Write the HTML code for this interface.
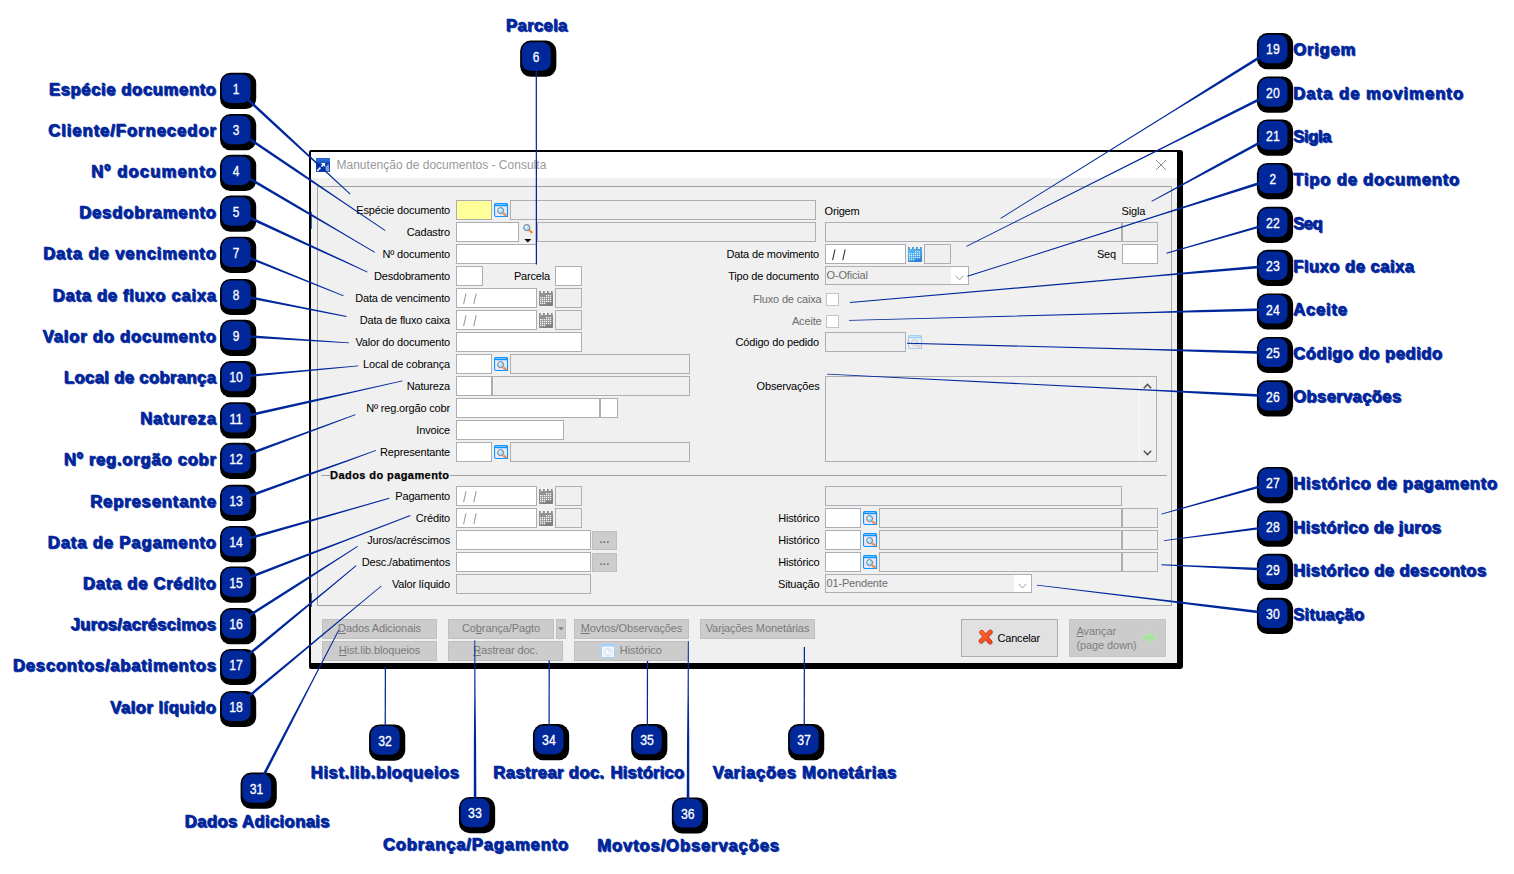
<!DOCTYPE html>
<html><head><meta charset="utf-8"><title>Manutenção de documentos</title>
<style>
html,body{margin:0;padding:0;background:#fff;}
body{width:1514px;height:874px;position:relative;overflow:hidden;font-family:"Liberation Sans",sans-serif;}
.abs{position:absolute;}
#dlgshadow{position:absolute;left:309px;top:150px;width:874px;height:519px;background:#000;border-radius:2px 3px 3px 2px;}
#dlg{position:absolute;left:311px;top:152px;width:866px;height:510.5px;background:#f0f0f0;}
#title{position:absolute;left:0;top:0;width:866px;height:26px;background:#fff;}
#title span{position:absolute;left:25.5px;top:5.5px;font-size:12px;color:#999;white-space:nowrap;letter-spacing:0.01px}
.f{position:absolute;box-sizing:border-box;height:20px;border:1px solid #abadb3;background:#fff;}
.g{background:#f0f0f0;border-color:#adafb5;}
.l{position:absolute;font-size:11px;color:#000;white-space:nowrap;text-align:right;line-height:13px;letter-spacing:-0.17px;}
.dis{color:#6d6d6d}
.btn{position:absolute;box-sizing:border-box;background:#cccccc;border:1px solid #bfbfbf;color:#7a7a7a;font-size:11px;text-align:center;white-space:nowrap;letter-spacing:-0.1px}
.btn u{text-decoration:underline;text-underline-offset:1px}
.sl{position:absolute;font-size:11px;color:#7b7b7b;font-style:normal;top:3px;line-height:13px;}
svg{position:absolute;left:0;top:0;}
</style></head><body>

<div id="dlgshadow"></div>
<div id="dlg">
<div id="title"><svg width="14" height="14" style="left:5px;top:6px" viewBox="0 0 14 14"><defs><linearGradient id="ig" x1="0" y1="0" x2="0" y2="1"><stop offset="0" stop-color="#1857c8"/><stop offset="0.12" stop-color="#2f6fd8"/><stop offset="0.32" stop-color="#1a55c6"/><stop offset="0.4" stop-color="#0838a8"/><stop offset="1" stop-color="#0a3cab"/></linearGradient></defs><rect width="14" height="14" rx="0.6" fill="url(#ig)"/><path d="M4.7 4.9 L9.1 4.9 L9.1 9.1 L7.6 7.6 L1.6 13.6 L0.5 12.6 L6.4 6.6 Z" fill="#fff"/><path d="M9.8 8.6 L12.6 5.8 L13.4 13.4 L9.6 13.4 Z" fill="#a9c1ee" opacity="0.75"/></svg><span>Manutenção de documentos - Consulta</span>
<svg width="12" height="12" style="left:844px;top:7px" viewBox="0 0 12 12"><path d="M1 1 L11 11 M11 1 L1 11" stroke="#8a8a8a" stroke-width="1" fill="none"/></svg>
</div>
<div class="abs" style="left:0px;top:441px;width:1px;height:14px;background:#3a6a9a"></div>
<div class="abs" style="left:0px;top:60px;width:1px;height:17px;background:#3f72b4"></div>
<div class="abs" style="left:6px;top:34px;width:855px;height:419.5px;box-sizing:border-box;border:1px solid #a0a0a0;border-right-color:#a8a8a8"></div>
<div class="l " style="top:51.5px;right:727px;">Espécie documento</div>
<div class="f " style="left:145px;top:48px;width:36px;height:20px;background:#ffff99;"></div>
<svg width="15" height="15" style="left:183px;top:51px;opacity:1" viewBox="0 0 15 15"><defs><linearGradient id="lkg" x1="0" y1="0" x2="1" y2="1"><stop offset="0" stop-color="#faf4ff"/><stop offset="1" stop-color="#dcdcff"/></linearGradient></defs><rect x="0.55" y="0.55" width="13" height="13" rx="1.5" fill="url(#lkg)" stroke="#0a94ff" stroke-width="1.1"/><rect x="0.6" y="0.6" width="12.9" height="2.6" rx="0.8" fill="#0a94ff"/><rect x="1.4" y="1.25" width="10.6" height="0.75" fill="#9fd2ff"/><line x1="9.2" y1="10.3" x2="12.1" y2="12.7" stroke="#f57a22" stroke-width="2.1" stroke-linecap="butt"/><line x1="9.6" y1="10.6" x2="11.8" y2="12.4" stroke="#ffd84a" stroke-width="0.8" stroke-dasharray="0.8 0.7"/><circle cx="6.6" cy="7.6" r="3" fill="#a4e0f8" stroke="#757b80" stroke-width="1"/><circle cx="6.0" cy="6.9" r="1.3" fill="#dffaff" opacity="0.9"/><rect x="12.9" y="12.9" width="0.9" height="0.9" fill="#444"/></svg>
<div class="f g" style="left:199px;top:48px;width:306px;height:20px;"></div>
<div class="l " style="top:73.5px;right:727px;">Cadastro</div>
<div class="f " style="left:145px;top:70px;width:63px;height:20px;"></div>
<svg width="12" height="12" style="left:211px;top:71.19999999999999px" viewBox="0 0 12 12"><line x1="7.2" y1="7.0" x2="9.6" y2="9.3" stroke="#f57a22" stroke-width="2.1" stroke-linecap="round"/><line x1="7.6" y1="7.4" x2="9.4" y2="9.1" stroke="#ffd84a" stroke-width="0.8" stroke-dasharray="0.8 0.7"/><circle cx="4.8" cy="4.6" r="3.1" fill="#a4e0f8" stroke="#757b80" stroke-width="1"/><circle cx="4.2" cy="3.9" r="1.4" fill="#dffaff" opacity="0.9"/></svg>
<svg width="8" height="4" style="left:213px;top:87px" viewBox="0 0 8 4"><path d="M0.3 0 L7.3 0 L3.8 3.6Z" fill="#000"/></svg>
<div class="f g" style="left:226px;top:70px;width:279px;height:20px;"></div>
<div class="l " style="top:95.5px;right:727px;">Nº documento</div>
<div class="f " style="left:145px;top:92px;width:81px;height:20px;"></div>
<div class="l " style="top:117.5px;right:727px;">Desdobramento</div>
<div class="f " style="left:145px;top:114px;width:27px;height:20px;"></div>
<div class="l " style="top:117.5px;right:627px;">Parcela</div>
<div class="f " style="left:244px;top:114px;width:27px;height:20px;"></div>
<div class="l " style="top:139.5px;right:727px;">Data de vencimento</div>
<div class="f " style="left:145px;top:136px;width:81px;height:20px;"></div>
<svg width="16" height="12" style="left:151.7px;top:141px" viewBox="0 0 16 12"><path d="M0.6 11.2 L3.0 0.3 M10.8 11.2 L13.2 0.3" stroke="#9a9a9a" stroke-width="1.05" fill="none"/></svg>
<svg width="15" height="16" style="left:228px;top:139px" viewBox="0 0 15 16"><defs><linearGradient id="cg1" x1="0" y1="0" x2="0.6" y2="1"><stop offset="0" stop-color="#9a9a9a"/><stop offset="1" stop-color="#7e7e7e"/></linearGradient></defs><rect x="0" y="1.9" width="14" height="13" rx="0.9" fill="url(#cg1)"/><rect x="0.10" y="0" width="1.7" height="2.4" fill="#8a8a8a"/><rect x="4.05" y="0" width="1.7" height="2.4" fill="#8a8a8a"/><rect x="8.00" y="0" width="1.7" height="2.4" fill="#8a8a8a"/><rect x="11.95" y="0" width="1.7" height="2.4" fill="#8a8a8a"/><rect x="7.4" y="13" width="5.6" height="1" fill="#7e7e7e" opacity="0.9"/><rect x="6.94" y="4.10" width="1.3" height="1.25" fill="#ffffff" opacity="0.95"/><rect x="8.92" y="4.10" width="1.3" height="1.25" fill="#ffffff" opacity="0.95"/><rect x="10.90" y="4.10" width="1.3" height="1.25" fill="#ffffff" opacity="0.95"/><rect x="1.00" y="6.05" width="1.3" height="1.25" fill="#ffffff" opacity="0.95"/><rect x="2.98" y="6.05" width="1.3" height="1.25" fill="#ffffff" opacity="0.95"/><rect x="4.96" y="6.05" width="1.3" height="1.25" fill="#ffffff" opacity="0.95"/><rect x="6.94" y="6.05" width="1.3" height="1.25" fill="#ffffff" opacity="0.95"/><rect x="8.92" y="6.05" width="1.3" height="1.25" fill="#ffffff" opacity="0.95"/><rect x="10.90" y="6.05" width="1.3" height="1.25" fill="#ffffff" opacity="0.95"/><rect x="1.00" y="8.00" width="1.3" height="1.25" fill="#ffffff" opacity="0.95"/><rect x="2.98" y="8.00" width="1.3" height="1.25" fill="#ffffff" opacity="0.95"/><rect x="4.96" y="8.00" width="1.3" height="1.25" fill="#ffffff" opacity="0.95"/><rect x="6.94" y="8.00" width="1.3" height="1.25" fill="#ffffff" opacity="0.95"/><rect x="8.92" y="8.00" width="1.3" height="1.25" fill="#ffffff" opacity="0.95"/><rect x="10.90" y="8.00" width="1.3" height="1.25" fill="#ffffff" opacity="0.95"/><rect x="1.00" y="9.95" width="1.3" height="1.25" fill="#ffffff" opacity="0.95"/><rect x="2.98" y="9.95" width="1.3" height="1.25" fill="#ffffff" opacity="0.95"/><rect x="4.96" y="9.95" width="1.3" height="1.25" fill="#ffffff" opacity="0.95"/><rect x="6.94" y="9.95" width="1.3" height="1.25" fill="#ffffff" opacity="0.95"/><rect x="8.92" y="9.95" width="1.3" height="1.25" fill="#ffffff" opacity="0.95"/><rect x="10.90" y="9.95" width="1.3" height="1.25" fill="#ffffff" opacity="0.95"/><rect x="1.00" y="11.90" width="1.3" height="1.25" fill="#ffffff" opacity="0.95"/><rect x="2.98" y="11.90" width="1.3" height="1.25" fill="#ffffff" opacity="0.95"/><rect x="4.96" y="11.90" width="1.3" height="1.25" fill="#ffffff" opacity="0.95"/></svg>
<div class="f g" style="left:244px;top:136px;width:27px;height:20px;"></div>
<div class="l " style="top:161.5px;right:727px;">Data de fluxo caixa</div>
<div class="f " style="left:145px;top:158px;width:81px;height:20px;"></div>
<svg width="16" height="12" style="left:151.7px;top:163px" viewBox="0 0 16 12"><path d="M0.6 11.2 L3.0 0.3 M10.8 11.2 L13.2 0.3" stroke="#9a9a9a" stroke-width="1.05" fill="none"/></svg>
<svg width="15" height="16" style="left:228px;top:161px" viewBox="0 0 15 16"><defs><linearGradient id="cg2" x1="0" y1="0" x2="0.6" y2="1"><stop offset="0" stop-color="#9a9a9a"/><stop offset="1" stop-color="#7e7e7e"/></linearGradient></defs><rect x="0" y="1.9" width="14" height="13" rx="0.9" fill="url(#cg2)"/><rect x="0.10" y="0" width="1.7" height="2.4" fill="#8a8a8a"/><rect x="4.05" y="0" width="1.7" height="2.4" fill="#8a8a8a"/><rect x="8.00" y="0" width="1.7" height="2.4" fill="#8a8a8a"/><rect x="11.95" y="0" width="1.7" height="2.4" fill="#8a8a8a"/><rect x="7.4" y="13" width="5.6" height="1" fill="#7e7e7e" opacity="0.9"/><rect x="6.94" y="4.10" width="1.3" height="1.25" fill="#ffffff" opacity="0.95"/><rect x="8.92" y="4.10" width="1.3" height="1.25" fill="#ffffff" opacity="0.95"/><rect x="10.90" y="4.10" width="1.3" height="1.25" fill="#ffffff" opacity="0.95"/><rect x="1.00" y="6.05" width="1.3" height="1.25" fill="#ffffff" opacity="0.95"/><rect x="2.98" y="6.05" width="1.3" height="1.25" fill="#ffffff" opacity="0.95"/><rect x="4.96" y="6.05" width="1.3" height="1.25" fill="#ffffff" opacity="0.95"/><rect x="6.94" y="6.05" width="1.3" height="1.25" fill="#ffffff" opacity="0.95"/><rect x="8.92" y="6.05" width="1.3" height="1.25" fill="#ffffff" opacity="0.95"/><rect x="10.90" y="6.05" width="1.3" height="1.25" fill="#ffffff" opacity="0.95"/><rect x="1.00" y="8.00" width="1.3" height="1.25" fill="#ffffff" opacity="0.95"/><rect x="2.98" y="8.00" width="1.3" height="1.25" fill="#ffffff" opacity="0.95"/><rect x="4.96" y="8.00" width="1.3" height="1.25" fill="#ffffff" opacity="0.95"/><rect x="6.94" y="8.00" width="1.3" height="1.25" fill="#ffffff" opacity="0.95"/><rect x="8.92" y="8.00" width="1.3" height="1.25" fill="#ffffff" opacity="0.95"/><rect x="10.90" y="8.00" width="1.3" height="1.25" fill="#ffffff" opacity="0.95"/><rect x="1.00" y="9.95" width="1.3" height="1.25" fill="#ffffff" opacity="0.95"/><rect x="2.98" y="9.95" width="1.3" height="1.25" fill="#ffffff" opacity="0.95"/><rect x="4.96" y="9.95" width="1.3" height="1.25" fill="#ffffff" opacity="0.95"/><rect x="6.94" y="9.95" width="1.3" height="1.25" fill="#ffffff" opacity="0.95"/><rect x="8.92" y="9.95" width="1.3" height="1.25" fill="#ffffff" opacity="0.95"/><rect x="10.90" y="9.95" width="1.3" height="1.25" fill="#ffffff" opacity="0.95"/><rect x="1.00" y="11.90" width="1.3" height="1.25" fill="#ffffff" opacity="0.95"/><rect x="2.98" y="11.90" width="1.3" height="1.25" fill="#ffffff" opacity="0.95"/><rect x="4.96" y="11.90" width="1.3" height="1.25" fill="#ffffff" opacity="0.95"/></svg>
<div class="f g" style="left:244px;top:158px;width:27px;height:20px;"></div>
<div class="l " style="top:183.5px;right:727px;">Valor do documento</div>
<div class="f " style="left:145px;top:180px;width:126px;height:20px;"></div>
<div class="l " style="top:205.5px;right:727px;">Local de cobrança</div>
<div class="f " style="left:145px;top:202px;width:36px;height:20px;"></div>
<svg width="15" height="15" style="left:183px;top:205px;opacity:1" viewBox="0 0 15 15"><defs><linearGradient id="lkg" x1="0" y1="0" x2="1" y2="1"><stop offset="0" stop-color="#faf4ff"/><stop offset="1" stop-color="#dcdcff"/></linearGradient></defs><rect x="0.55" y="0.55" width="13" height="13" rx="1.5" fill="url(#lkg)" stroke="#0a94ff" stroke-width="1.1"/><rect x="0.6" y="0.6" width="12.9" height="2.6" rx="0.8" fill="#0a94ff"/><rect x="1.4" y="1.25" width="10.6" height="0.75" fill="#9fd2ff"/><line x1="9.2" y1="10.3" x2="12.1" y2="12.7" stroke="#f57a22" stroke-width="2.1" stroke-linecap="butt"/><line x1="9.6" y1="10.6" x2="11.8" y2="12.4" stroke="#ffd84a" stroke-width="0.8" stroke-dasharray="0.8 0.7"/><circle cx="6.6" cy="7.6" r="3" fill="#a4e0f8" stroke="#757b80" stroke-width="1"/><circle cx="6.0" cy="6.9" r="1.3" fill="#dffaff" opacity="0.9"/><rect x="12.9" y="12.9" width="0.9" height="0.9" fill="#444"/></svg>
<div class="f g" style="left:199px;top:202px;width:180px;height:20px;"></div>
<div class="l " style="top:227.5px;right:727px;">Natureza</div>
<div class="f " style="left:145px;top:224px;width:36px;height:20px;"></div>
<div class="f g" style="left:181px;top:224px;width:198px;height:20px;"></div>
<div class="l " style="top:249.5px;right:727px;">Nº reg.orgão cobr</div>
<div class="f " style="left:145px;top:246px;width:144px;height:20px;"></div>
<div class="f " style="left:289px;top:246px;width:18px;height:20px;"></div>
<div class="l " style="top:271.5px;right:727px;">Invoice</div>
<div class="f " style="left:145px;top:268px;width:108px;height:20px;"></div>
<div class="l " style="top:293.5px;right:727px;">Representante</div>
<div class="f " style="left:145px;top:290px;width:36px;height:20px;"></div>
<svg width="15" height="15" style="left:183px;top:293px;opacity:1" viewBox="0 0 15 15"><defs><linearGradient id="lkg" x1="0" y1="0" x2="1" y2="1"><stop offset="0" stop-color="#faf4ff"/><stop offset="1" stop-color="#dcdcff"/></linearGradient></defs><rect x="0.55" y="0.55" width="13" height="13" rx="1.5" fill="url(#lkg)" stroke="#0a94ff" stroke-width="1.1"/><rect x="0.6" y="0.6" width="12.9" height="2.6" rx="0.8" fill="#0a94ff"/><rect x="1.4" y="1.25" width="10.6" height="0.75" fill="#9fd2ff"/><line x1="9.2" y1="10.3" x2="12.1" y2="12.7" stroke="#f57a22" stroke-width="2.1" stroke-linecap="butt"/><line x1="9.6" y1="10.6" x2="11.8" y2="12.4" stroke="#ffd84a" stroke-width="0.8" stroke-dasharray="0.8 0.7"/><circle cx="6.6" cy="7.6" r="3" fill="#a4e0f8" stroke="#757b80" stroke-width="1"/><circle cx="6.0" cy="6.9" r="1.3" fill="#dffaff" opacity="0.9"/><rect x="12.9" y="12.9" width="0.9" height="0.9" fill="#444"/></svg>
<div class="f g" style="left:199px;top:290px;width:180px;height:20px;"></div>
<div class="abs" style="left:10px;top:323px;width:846px;height:1px;background:#a0a0a0"></div>
<div class="l" style="left:18.600000000000023px;top:316.5px;font-weight:bold;background:#f0f0f0;padding:0 0.5px 0 0.5px;letter-spacing:0.42px;-webkit-text-stroke:0.25px #000">Dados do pagamento</div>
<div class="l " style="top:337.5px;right:727px;">Pagamento</div>
<div class="f " style="left:145px;top:334px;width:81px;height:20px;"></div>
<svg width="16" height="12" style="left:151.7px;top:339px" viewBox="0 0 16 12"><path d="M0.6 11.2 L3.0 0.3 M10.8 11.2 L13.2 0.3" stroke="#9a9a9a" stroke-width="1.05" fill="none"/></svg>
<svg width="15" height="16" style="left:228px;top:337px" viewBox="0 0 15 16"><defs><linearGradient id="cg3" x1="0" y1="0" x2="0.6" y2="1"><stop offset="0" stop-color="#9a9a9a"/><stop offset="1" stop-color="#7e7e7e"/></linearGradient></defs><rect x="0" y="1.9" width="14" height="13" rx="0.9" fill="url(#cg3)"/><rect x="0.10" y="0" width="1.7" height="2.4" fill="#8a8a8a"/><rect x="4.05" y="0" width="1.7" height="2.4" fill="#8a8a8a"/><rect x="8.00" y="0" width="1.7" height="2.4" fill="#8a8a8a"/><rect x="11.95" y="0" width="1.7" height="2.4" fill="#8a8a8a"/><rect x="7.4" y="13" width="5.6" height="1" fill="#7e7e7e" opacity="0.9"/><rect x="6.94" y="4.10" width="1.3" height="1.25" fill="#ffffff" opacity="0.95"/><rect x="8.92" y="4.10" width="1.3" height="1.25" fill="#ffffff" opacity="0.95"/><rect x="10.90" y="4.10" width="1.3" height="1.25" fill="#ffffff" opacity="0.95"/><rect x="1.00" y="6.05" width="1.3" height="1.25" fill="#ffffff" opacity="0.95"/><rect x="2.98" y="6.05" width="1.3" height="1.25" fill="#ffffff" opacity="0.95"/><rect x="4.96" y="6.05" width="1.3" height="1.25" fill="#ffffff" opacity="0.95"/><rect x="6.94" y="6.05" width="1.3" height="1.25" fill="#ffffff" opacity="0.95"/><rect x="8.92" y="6.05" width="1.3" height="1.25" fill="#ffffff" opacity="0.95"/><rect x="10.90" y="6.05" width="1.3" height="1.25" fill="#ffffff" opacity="0.95"/><rect x="1.00" y="8.00" width="1.3" height="1.25" fill="#ffffff" opacity="0.95"/><rect x="2.98" y="8.00" width="1.3" height="1.25" fill="#ffffff" opacity="0.95"/><rect x="4.96" y="8.00" width="1.3" height="1.25" fill="#ffffff" opacity="0.95"/><rect x="6.94" y="8.00" width="1.3" height="1.25" fill="#ffffff" opacity="0.95"/><rect x="8.92" y="8.00" width="1.3" height="1.25" fill="#ffffff" opacity="0.95"/><rect x="10.90" y="8.00" width="1.3" height="1.25" fill="#ffffff" opacity="0.95"/><rect x="1.00" y="9.95" width="1.3" height="1.25" fill="#ffffff" opacity="0.95"/><rect x="2.98" y="9.95" width="1.3" height="1.25" fill="#ffffff" opacity="0.95"/><rect x="4.96" y="9.95" width="1.3" height="1.25" fill="#ffffff" opacity="0.95"/><rect x="6.94" y="9.95" width="1.3" height="1.25" fill="#ffffff" opacity="0.95"/><rect x="8.92" y="9.95" width="1.3" height="1.25" fill="#ffffff" opacity="0.95"/><rect x="10.90" y="9.95" width="1.3" height="1.25" fill="#ffffff" opacity="0.95"/><rect x="1.00" y="11.90" width="1.3" height="1.25" fill="#ffffff" opacity="0.95"/><rect x="2.98" y="11.90" width="1.3" height="1.25" fill="#ffffff" opacity="0.95"/><rect x="4.96" y="11.90" width="1.3" height="1.25" fill="#ffffff" opacity="0.95"/></svg>
<div class="f g" style="left:244px;top:334px;width:27px;height:20px;"></div>
<div class="l " style="top:359.5px;right:727px;">Crédito</div>
<div class="f " style="left:145px;top:356px;width:81px;height:20px;"></div>
<svg width="16" height="12" style="left:151.7px;top:361px" viewBox="0 0 16 12"><path d="M0.6 11.2 L3.0 0.3 M10.8 11.2 L13.2 0.3" stroke="#9a9a9a" stroke-width="1.05" fill="none"/></svg>
<svg width="15" height="16" style="left:228px;top:359px" viewBox="0 0 15 16"><defs><linearGradient id="cg4" x1="0" y1="0" x2="0.6" y2="1"><stop offset="0" stop-color="#9a9a9a"/><stop offset="1" stop-color="#7e7e7e"/></linearGradient></defs><rect x="0" y="1.9" width="14" height="13" rx="0.9" fill="url(#cg4)"/><rect x="0.10" y="0" width="1.7" height="2.4" fill="#8a8a8a"/><rect x="4.05" y="0" width="1.7" height="2.4" fill="#8a8a8a"/><rect x="8.00" y="0" width="1.7" height="2.4" fill="#8a8a8a"/><rect x="11.95" y="0" width="1.7" height="2.4" fill="#8a8a8a"/><rect x="7.4" y="13" width="5.6" height="1" fill="#7e7e7e" opacity="0.9"/><rect x="6.94" y="4.10" width="1.3" height="1.25" fill="#ffffff" opacity="0.95"/><rect x="8.92" y="4.10" width="1.3" height="1.25" fill="#ffffff" opacity="0.95"/><rect x="10.90" y="4.10" width="1.3" height="1.25" fill="#ffffff" opacity="0.95"/><rect x="1.00" y="6.05" width="1.3" height="1.25" fill="#ffffff" opacity="0.95"/><rect x="2.98" y="6.05" width="1.3" height="1.25" fill="#ffffff" opacity="0.95"/><rect x="4.96" y="6.05" width="1.3" height="1.25" fill="#ffffff" opacity="0.95"/><rect x="6.94" y="6.05" width="1.3" height="1.25" fill="#ffffff" opacity="0.95"/><rect x="8.92" y="6.05" width="1.3" height="1.25" fill="#ffffff" opacity="0.95"/><rect x="10.90" y="6.05" width="1.3" height="1.25" fill="#ffffff" opacity="0.95"/><rect x="1.00" y="8.00" width="1.3" height="1.25" fill="#ffffff" opacity="0.95"/><rect x="2.98" y="8.00" width="1.3" height="1.25" fill="#ffffff" opacity="0.95"/><rect x="4.96" y="8.00" width="1.3" height="1.25" fill="#ffffff" opacity="0.95"/><rect x="6.94" y="8.00" width="1.3" height="1.25" fill="#ffffff" opacity="0.95"/><rect x="8.92" y="8.00" width="1.3" height="1.25" fill="#ffffff" opacity="0.95"/><rect x="10.90" y="8.00" width="1.3" height="1.25" fill="#ffffff" opacity="0.95"/><rect x="1.00" y="9.95" width="1.3" height="1.25" fill="#ffffff" opacity="0.95"/><rect x="2.98" y="9.95" width="1.3" height="1.25" fill="#ffffff" opacity="0.95"/><rect x="4.96" y="9.95" width="1.3" height="1.25" fill="#ffffff" opacity="0.95"/><rect x="6.94" y="9.95" width="1.3" height="1.25" fill="#ffffff" opacity="0.95"/><rect x="8.92" y="9.95" width="1.3" height="1.25" fill="#ffffff" opacity="0.95"/><rect x="10.90" y="9.95" width="1.3" height="1.25" fill="#ffffff" opacity="0.95"/><rect x="1.00" y="11.90" width="1.3" height="1.25" fill="#ffffff" opacity="0.95"/><rect x="2.98" y="11.90" width="1.3" height="1.25" fill="#ffffff" opacity="0.95"/><rect x="4.96" y="11.90" width="1.3" height="1.25" fill="#ffffff" opacity="0.95"/></svg>
<div class="f g" style="left:244px;top:356px;width:27px;height:20px;"></div>
<div class="l " style="top:381.5px;right:727px;">Juros/acréscimos</div>
<div class="f " style="left:145px;top:378px;width:135px;height:20px;"></div>
<div class="btn" style="left:281px;top:379px;width:25px;height:19px;line-height:15px;letter-spacing:0.3px;color:#6f6f6f;font-weight:bold">...</div>
<div class="l " style="top:403.5px;right:727px;">Desc./abatimentos</div>
<div class="f " style="left:145px;top:400px;width:135px;height:20px;"></div>
<div class="btn" style="left:281px;top:401px;width:25px;height:19px;line-height:15px;letter-spacing:0.3px;color:#6f6f6f;font-weight:bold">...</div>
<div class="l " style="top:425.5px;right:727px;">Valor líquido</div>
<div class="f g" style="left:145px;top:422px;width:135px;height:20px;"></div>
<div class="l " style="top:53.0px;left:513.5px;text-align:left;">Origem</div>
<div class="l " style="top:53.0px;left:810.5px;text-align:left;">Sigla</div>
<div class="f g" style="left:514px;top:70px;width:297px;height:20px;"></div>
<div class="f g" style="left:811px;top:70px;width:36px;height:20px;"></div>
<div class="l " style="top:95.5px;right:358px;">Data de movimento</div>
<div class="f " style="left:514px;top:92px;width:81px;height:20px;"></div>
<svg width="16" height="12" style="left:521.0px;top:97px" viewBox="0 0 16 12"><path d="M0.6 11.2 L3.0 0.3 M10.8 11.2 L13.2 0.3" stroke="#2a2a3a" stroke-width="1.05" fill="none"/></svg>
<svg width="15" height="16" style="left:597px;top:95px" viewBox="0 0 15 16"><defs><linearGradient id="cg5" x1="0" y1="0" x2="0.6" y2="1"><stop offset="0" stop-color="#5cc2fa"/><stop offset="1" stop-color="#2f80d6"/></linearGradient></defs><rect x="0" y="1.9" width="14" height="13" rx="0.9" fill="url(#cg5)"/><rect x="0.10" y="0" width="1.7" height="2.4" fill="#3f95c8"/><rect x="4.05" y="0" width="1.7" height="2.4" fill="#3f95c8"/><rect x="8.00" y="0" width="1.7" height="2.4" fill="#3f95c8"/><rect x="11.95" y="0" width="1.7" height="2.4" fill="#3f95c8"/><rect x="7.4" y="13" width="5.6" height="1" fill="#2f80d6" opacity="0.9"/><rect x="6.94" y="4.10" width="1.3" height="1.25" fill="#d8fbff" opacity="0.95"/><rect x="8.92" y="4.10" width="1.3" height="1.25" fill="#d8fbff" opacity="0.95"/><rect x="10.90" y="4.10" width="1.3" height="1.25" fill="#d8fbff" opacity="0.95"/><rect x="1.00" y="6.05" width="1.3" height="1.25" fill="#d8fbff" opacity="0.95"/><rect x="2.98" y="6.05" width="1.3" height="1.25" fill="#d8fbff" opacity="0.95"/><rect x="4.96" y="6.05" width="1.3" height="1.25" fill="#d8fbff" opacity="0.95"/><rect x="6.94" y="6.05" width="1.3" height="1.25" fill="#d8fbff" opacity="0.95"/><rect x="8.92" y="6.05" width="1.3" height="1.25" fill="#d8fbff" opacity="0.95"/><rect x="10.90" y="6.05" width="1.3" height="1.25" fill="#d8fbff" opacity="0.95"/><rect x="1.00" y="8.00" width="1.3" height="1.25" fill="#d8fbff" opacity="0.95"/><rect x="2.98" y="8.00" width="1.3" height="1.25" fill="#d8fbff" opacity="0.95"/><rect x="4.96" y="8.00" width="1.3" height="1.25" fill="#d8fbff" opacity="0.95"/><rect x="6.94" y="8.00" width="1.3" height="1.25" fill="#d8fbff" opacity="0.95"/><rect x="8.92" y="8.00" width="1.3" height="1.25" fill="#d8fbff" opacity="0.95"/><rect x="10.90" y="8.00" width="1.3" height="1.25" fill="#d8fbff" opacity="0.95"/><rect x="1.00" y="9.95" width="1.3" height="1.25" fill="#d8fbff" opacity="0.95"/><rect x="2.98" y="9.95" width="1.3" height="1.25" fill="#d8fbff" opacity="0.95"/><rect x="4.96" y="9.95" width="1.3" height="1.25" fill="#d8fbff" opacity="0.95"/><rect x="6.94" y="9.95" width="1.3" height="1.25" fill="#d8fbff" opacity="0.95"/><rect x="8.92" y="9.95" width="1.3" height="1.25" fill="#d8fbff" opacity="0.95"/><rect x="10.90" y="9.95" width="1.3" height="1.25" fill="#d8fbff" opacity="0.95"/><rect x="1.00" y="11.90" width="1.3" height="1.25" fill="#d8fbff" opacity="0.95"/><rect x="2.98" y="11.90" width="1.3" height="1.25" fill="#d8fbff" opacity="0.95"/><rect x="4.96" y="11.90" width="1.3" height="1.25" fill="#d8fbff" opacity="0.95"/></svg>
<div class="f g" style="left:613px;top:92px;width:27px;height:20px;"></div>
<div class="l " style="top:95.5px;right:61px;">Seq</div>
<div class="f " style="left:811px;top:92px;width:36px;height:20px;"></div>
<div class="l " style="top:117.5px;right:358px;">Tipo de documento</div>
<div class="f g" style="left:514px;top:114px;width:144px;height:19px;"></div>
<div class="abs" style="left:640px;top:115px;width:17px;height:17px;background:#fff"></div>
<svg width="9" height="6" style="left:644px;top:122.5px" viewBox="0 0 9 6"><path d="M0.5 0.7 L4.5 4.9 L8.5 0.7" stroke="#9a9a9a" stroke-width="1" fill="none"/></svg>
<div class="l dis" style="left:515.5px;top:116.5px;text-align:left;">O-Oficial</div>
<div class="l dis" style="top:140.5px;right:355.5px;">Fluxo de caixa</div>
<div class="f" style="left:515px;top:141px;width:13px;height:13px;border-color:#c4c4c4"></div>
<div class="l dis" style="top:162.5px;right:355.5px;">Aceite</div>
<div class="f" style="left:515px;top:163px;width:13px;height:13px;border-color:#c4c4c4"></div>
<div class="l " style="top:183.5px;right:358px;">Código do pedido</div>
<div class="f g" style="left:514px;top:180px;width:81px;height:20px;"></div>
<svg width="15" height="15" style="left:597px;top:183px;opacity:0.33" viewBox="0 0 15 15"><defs><linearGradient id="lkg" x1="0" y1="0" x2="1" y2="1"><stop offset="0" stop-color="#faf4ff"/><stop offset="1" stop-color="#dcdcff"/></linearGradient></defs><rect x="0.55" y="0.55" width="13" height="13" rx="1.5" fill="url(#lkg)" stroke="#0a94ff" stroke-width="1.1"/><rect x="0.6" y="0.6" width="12.9" height="2.6" rx="0.8" fill="#0a94ff"/><rect x="1.4" y="1.25" width="10.6" height="0.75" fill="#9fd2ff"/><line x1="9.2" y1="10.3" x2="12.1" y2="12.7" stroke="#f57a22" stroke-width="2.1" stroke-linecap="butt"/><line x1="9.6" y1="10.6" x2="11.8" y2="12.4" stroke="#ffd84a" stroke-width="0.8" stroke-dasharray="0.8 0.7"/><circle cx="6.6" cy="7.6" r="3" fill="#a4e0f8" stroke="#757b80" stroke-width="1"/><circle cx="6.0" cy="6.9" r="1.3" fill="#dffaff" opacity="0.9"/><rect x="12.9" y="12.9" width="0.9" height="0.9" fill="#444"/></svg>
<div class="l " style="top:227.5px;right:357.5px;">Observações</div>
<div class="f g" style="left:514px;top:224px;width:332px;height:86px"></div>
<div class="abs" style="left:828px;top:225px;width:1px;height:84px;background:#fafafa"></div>
<svg width="9" height="6" style="left:832px;top:231px" viewBox="0 0 9 6"><path d="M0.8 5.2 L4.5 1.4 L8.2 5.2" stroke="#555" stroke-width="1.5" fill="none"/></svg>
<svg width="9" height="6" style="left:832px;top:298px" viewBox="0 0 9 6"><path d="M0.8 0.8 L4.5 4.6 L8.2 0.8" stroke="#555" stroke-width="1.5" fill="none"/></svg>
<div class="f g" style="left:514px;top:334px;width:297px;height:20px;"></div>
<div class="l " style="top:359.5px;right:357.5px;">Histórico</div>
<div class="f " style="left:514px;top:356px;width:36px;height:20px;"></div>
<svg width="15" height="15" style="left:552px;top:359px;opacity:1" viewBox="0 0 15 15"><defs><linearGradient id="lkg" x1="0" y1="0" x2="1" y2="1"><stop offset="0" stop-color="#faf4ff"/><stop offset="1" stop-color="#dcdcff"/></linearGradient></defs><rect x="0.55" y="0.55" width="13" height="13" rx="1.5" fill="url(#lkg)" stroke="#0a94ff" stroke-width="1.1"/><rect x="0.6" y="0.6" width="12.9" height="2.6" rx="0.8" fill="#0a94ff"/><rect x="1.4" y="1.25" width="10.6" height="0.75" fill="#9fd2ff"/><line x1="9.2" y1="10.3" x2="12.1" y2="12.7" stroke="#f57a22" stroke-width="2.1" stroke-linecap="butt"/><line x1="9.6" y1="10.6" x2="11.8" y2="12.4" stroke="#ffd84a" stroke-width="0.8" stroke-dasharray="0.8 0.7"/><circle cx="6.6" cy="7.6" r="3" fill="#a4e0f8" stroke="#757b80" stroke-width="1"/><circle cx="6.0" cy="6.9" r="1.3" fill="#dffaff" opacity="0.9"/><rect x="12.9" y="12.9" width="0.9" height="0.9" fill="#444"/></svg>
<div class="f g" style="left:568px;top:356px;width:243px;height:20px;"></div>
<div class="f g" style="left:811px;top:356px;width:36px;height:20px;"></div>
<div class="l " style="top:381.5px;right:357.5px;">Histórico</div>
<div class="f " style="left:514px;top:378px;width:36px;height:20px;"></div>
<svg width="15" height="15" style="left:552px;top:381px;opacity:1" viewBox="0 0 15 15"><defs><linearGradient id="lkg" x1="0" y1="0" x2="1" y2="1"><stop offset="0" stop-color="#faf4ff"/><stop offset="1" stop-color="#dcdcff"/></linearGradient></defs><rect x="0.55" y="0.55" width="13" height="13" rx="1.5" fill="url(#lkg)" stroke="#0a94ff" stroke-width="1.1"/><rect x="0.6" y="0.6" width="12.9" height="2.6" rx="0.8" fill="#0a94ff"/><rect x="1.4" y="1.25" width="10.6" height="0.75" fill="#9fd2ff"/><line x1="9.2" y1="10.3" x2="12.1" y2="12.7" stroke="#f57a22" stroke-width="2.1" stroke-linecap="butt"/><line x1="9.6" y1="10.6" x2="11.8" y2="12.4" stroke="#ffd84a" stroke-width="0.8" stroke-dasharray="0.8 0.7"/><circle cx="6.6" cy="7.6" r="3" fill="#a4e0f8" stroke="#757b80" stroke-width="1"/><circle cx="6.0" cy="6.9" r="1.3" fill="#dffaff" opacity="0.9"/><rect x="12.9" y="12.9" width="0.9" height="0.9" fill="#444"/></svg>
<div class="f g" style="left:568px;top:378px;width:243px;height:20px;"></div>
<div class="f g" style="left:811px;top:378px;width:36px;height:20px;"></div>
<div class="l " style="top:403.5px;right:357.5px;">Histórico</div>
<div class="f " style="left:514px;top:400px;width:36px;height:20px;"></div>
<svg width="15" height="15" style="left:552px;top:403px;opacity:1" viewBox="0 0 15 15"><defs><linearGradient id="lkg" x1="0" y1="0" x2="1" y2="1"><stop offset="0" stop-color="#faf4ff"/><stop offset="1" stop-color="#dcdcff"/></linearGradient></defs><rect x="0.55" y="0.55" width="13" height="13" rx="1.5" fill="url(#lkg)" stroke="#0a94ff" stroke-width="1.1"/><rect x="0.6" y="0.6" width="12.9" height="2.6" rx="0.8" fill="#0a94ff"/><rect x="1.4" y="1.25" width="10.6" height="0.75" fill="#9fd2ff"/><line x1="9.2" y1="10.3" x2="12.1" y2="12.7" stroke="#f57a22" stroke-width="2.1" stroke-linecap="butt"/><line x1="9.6" y1="10.6" x2="11.8" y2="12.4" stroke="#ffd84a" stroke-width="0.8" stroke-dasharray="0.8 0.7"/><circle cx="6.6" cy="7.6" r="3" fill="#a4e0f8" stroke="#757b80" stroke-width="1"/><circle cx="6.0" cy="6.9" r="1.3" fill="#dffaff" opacity="0.9"/><rect x="12.9" y="12.9" width="0.9" height="0.9" fill="#444"/></svg>
<div class="f g" style="left:568px;top:400px;width:243px;height:20px;"></div>
<div class="f g" style="left:811px;top:400px;width:36px;height:20px;"></div>
<div class="l " style="top:425.5px;right:357.5px;">Situação</div>
<div class="f g" style="left:514px;top:422px;width:207px;height:19px;"></div>
<div class="abs" style="left:703px;top:423px;width:17px;height:17px;background:#fff"></div>
<svg width="9" height="6" style="left:707px;top:430.5px" viewBox="0 0 9 6"><path d="M0.5 0.7 L4.5 4.9 L8.5 0.7" stroke="#9a9a9a" stroke-width="1" fill="none"/></svg>
<div class="l dis" style="left:515.5px;top:424.5px;text-align:left;">01-Pendente</div>
<div class="btn" style="left:11px;top:467.20000000000005px;width:115px;height:19.59999999999991px;line-height:17.59999999999991px;"><u>D</u>ados Adicionais</div>
<div class="btn" style="left:137px;top:467.20000000000005px;width:106px;height:19.59999999999991px;line-height:17.59999999999991px;">Co<u>b</u>rança/Pagto</div>
<div class="btn" style="left:245px;top:467.20000000000005px;width:10px;height:19.59999999999991px;line-height:17.59999999999991px;"><svg width="6" height="4" style="position:absolute;left:1px;top:7px" viewBox="0 0 6 4"><path d="M0 0.3 L6 0.3 L3 3.6Z" fill="#838383"/></svg></div>
<div class="btn" style="left:263px;top:467.20000000000005px;width:115px;height:19.59999999999991px;line-height:17.59999999999991px;"><u>M</u>ovtos/Observações</div>
<div class="btn" style="left:389px;top:467.20000000000005px;width:115px;height:19.59999999999991px;line-height:17.59999999999991px;">Var<u>i</u>ações Monetárias</div>
<div class="btn" style="left:11px;top:489.20000000000005px;width:115px;height:19.59999999999991px;line-height:17.59999999999991px;"><u>H</u>ist.lib.bloqueios</div>
<div class="btn" style="left:137px;top:489.20000000000005px;width:115px;height:19.59999999999991px;line-height:17.59999999999991px;"><u>R</u>astrear doc.</div>
<div class="btn" style="left:263px;top:489.20000000000005px;width:114.5px;height:19.59999999999991px;line-height:17.59999999999991px;"><svg width="14" height="14" style="position:absolute;left:26px;top:1.5px" viewBox="0 0 14 14"><rect x="0.5" y="0.5" width="13" height="13" rx="1.2" fill="#f4f4ff" stroke="#9cd0ff" stroke-width="1"/><rect x="0.5" y="0.5" width="13" height="2" fill="#9cd0ff"/><circle cx="7" cy="8" r="3.3" fill="#fff" stroke="#bcd3e6" stroke-width="0.9"/><path d="M7 6 L7 8 L8.6 7" stroke="#bcd3e6" stroke-width="0.8" fill="none"/></svg><span style="padding-left:19px">Histórico</span></div>
<div class="btn" style="left:650px;top:467px;width:97px;height:38px;background:#e1e1e1;border-color:#adadad;color:#000"></div>
<svg width="17" height="17" style="left:666.5px;top:477px" viewBox="0 0 17 17"><defs><linearGradient id="xg" x1="0" y1="0" x2="1" y2="1"><stop offset="0" stop-color="#ff6a30"/><stop offset="1" stop-color="#f0451a"/></linearGradient></defs><path d="M4.2 3.9 L12.6 13.6 M12.9 3.6 L3.6 12.8" stroke="#50606a" stroke-opacity="0.35" stroke-width="4.6" stroke-linecap="round" fill="none"/><path d="M3.6 3.2 L12.0 12.9 M12.3 2.9 L3.0 12.1" stroke="#cf2d16" stroke-width="4.6" stroke-linecap="round" fill="none"/><path d="M3.6 3.2 L12.0 12.9 M12.3 2.9 L3.0 12.1" stroke="url(#xg)" stroke-width="3.3" stroke-linecap="round" fill="none"/></svg>
<div class="l" style="left:686.5px;top:479.5px;text-align:left;letter-spacing:-0.2px">Cancelar</div>
<div class="btn" style="left:758px;top:467px;width:97px;height:38px;border-color:#c4c4c4"></div>
<div class="l" style="left:765.5px;top:471.9px;text-align:left;color:#7e7e7e;line-height:14px;letter-spacing:-0.1px"><u style="text-underline-offset:1px">A</u>vançar<br>(page down)</div>
<svg width="14" height="13" style="left:831.5px;top:479px" viewBox="0 0 14 13"><path d="M0.8 4 L7 4 L7 0.8 L13.2 6.5 L7 12.2 L7 9 L0.8 9 Z" fill="#a5e39a" stroke="#b9eab0" stroke-width="0.8" stroke-linejoin="round"/></svg>
</div>
<svg width="1514" height="874" viewBox="0 0 1514 874">
<rect x="220.00" y="72.80" width="36.2" height="36.2" rx="10.5" fill="#000"/>
<rect x="220.00" y="114.10" width="36.2" height="36.2" rx="10.5" fill="#000"/>
<rect x="220.00" y="154.80" width="36.2" height="36.2" rx="10.5" fill="#000"/>
<rect x="220.00" y="195.60" width="36.2" height="36.2" rx="10.5" fill="#000"/>
<rect x="220.00" y="236.70" width="36.2" height="36.2" rx="10.5" fill="#000"/>
<rect x="220.00" y="278.90" width="36.2" height="36.2" rx="10.5" fill="#000"/>
<rect x="220.00" y="319.70" width="36.2" height="36.2" rx="10.5" fill="#000"/>
<rect x="220.00" y="361.10" width="36.2" height="36.2" rx="10.5" fill="#000"/>
<rect x="220.00" y="402.30" width="36.2" height="36.2" rx="10.5" fill="#000"/>
<rect x="220.00" y="442.80" width="36.2" height="36.2" rx="10.5" fill="#000"/>
<rect x="220.00" y="484.80" width="36.2" height="36.2" rx="10.5" fill="#000"/>
<rect x="220.00" y="526.00" width="36.2" height="36.2" rx="10.5" fill="#000"/>
<rect x="220.00" y="566.50" width="36.2" height="36.2" rx="10.5" fill="#000"/>
<rect x="220.00" y="608.10" width="36.2" height="36.2" rx="10.5" fill="#000"/>
<rect x="220.00" y="648.90" width="36.2" height="36.2" rx="10.5" fill="#000"/>
<rect x="220.00" y="690.90" width="36.2" height="36.2" rx="10.5" fill="#000"/>
<rect x="1256.90" y="33.10" width="36.2" height="36.2" rx="10.5" fill="#000"/>
<rect x="1256.90" y="76.60" width="36.2" height="36.2" rx="10.5" fill="#000"/>
<rect x="1256.90" y="119.50" width="36.2" height="36.2" rx="10.5" fill="#000"/>
<rect x="1256.90" y="163.00" width="36.2" height="36.2" rx="10.5" fill="#000"/>
<rect x="1256.90" y="206.80" width="36.2" height="36.2" rx="10.5" fill="#000"/>
<rect x="1256.90" y="249.80" width="36.2" height="36.2" rx="10.5" fill="#000"/>
<rect x="1256.90" y="293.40" width="36.2" height="36.2" rx="10.5" fill="#000"/>
<rect x="1256.90" y="336.90" width="36.2" height="36.2" rx="10.5" fill="#000"/>
<rect x="1256.90" y="380.30" width="36.2" height="36.2" rx="10.5" fill="#000"/>
<rect x="1256.90" y="467.00" width="36.2" height="36.2" rx="10.5" fill="#000"/>
<rect x="1256.90" y="510.50" width="36.2" height="36.2" rx="10.5" fill="#000"/>
<rect x="1256.90" y="553.80" width="36.2" height="36.2" rx="10.5" fill="#000"/>
<rect x="1256.90" y="597.80" width="36.2" height="36.2" rx="10.5" fill="#000"/>
<rect x="520.15" y="40.60" width="36.2" height="36.2" rx="10.5" fill="#000"/>
<rect x="240.60" y="772.60" width="36.2" height="36.2" rx="10.5" fill="#000"/>
<rect x="369.05" y="724.50" width="36.2" height="36.2" rx="10.5" fill="#000"/>
<rect x="458.95" y="797.00" width="36.2" height="36.2" rx="10.5" fill="#000"/>
<rect x="532.95" y="724.10" width="36.2" height="36.2" rx="10.5" fill="#000"/>
<rect x="631.15" y="724.10" width="36.2" height="36.2" rx="10.5" fill="#000"/>
<rect x="671.85" y="797.40" width="36.2" height="36.2" rx="10.5" fill="#000"/>
<rect x="788.05" y="724.10" width="36.2" height="36.2" rx="10.5" fill="#000"/>
<polygon points="235.23,89.70 288.26,138.40 322.32,169.31 349.89,194.53 350.51,193.87 323.22,168.34 289.75,136.78 237.07,87.70" fill="#00289b"/>
<polygon points="235.39,131.13 295.23,171.17 333.61,196.53 385.05,230.97 385.55,230.23 334.35,195.44 296.46,169.35 236.91,128.87" fill="#00289b"/>
<polygon points="235.46,171.87 297.64,208.17 337.51,231.12 374.57,252.69 375.03,251.91 338.18,229.98 298.76,206.27 236.84,169.53" fill="#00289b"/>
<polygon points="235.58,212.73 301.06,242.68 343.01,261.56 367.21,272.51 367.59,271.69 343.56,260.37 301.98,240.68 236.72,210.27" fill="#00289b"/>
<polygon points="235.66,253.82 343.43,296.32 343.77,295.48 236.64,251.38" fill="#00289b"/>
<polygon points="235.90,296.10 346.41,316.94 346.59,316.06 236.40,293.50" fill="#00289b"/>
<polygon points="236.06,336.92 349.07,343.35 349.13,342.45 236.24,334.28" fill="#00289b"/>
<polygon points="236.27,378.31 358.34,366.35 358.26,365.45 236.03,375.69" fill="#00289b"/>
<polygon points="236.45,419.53 306.65,403.52 351.44,393.03 402.60,381.34 402.40,380.46 351.15,391.74 306.16,401.37 235.85,416.87" fill="#00289b"/>
<polygon points="236.61,459.94 355.56,415.12 355.24,414.28 235.69,457.46" fill="#00289b"/>
<polygon points="236.61,501.98 304.27,477.37 347.41,461.38 376.15,450.82 375.85,449.98 346.96,460.14 303.53,475.30 235.69,499.42" fill="#00289b"/>
<polygon points="236.52,543.21 305.70,523.24 349.82,510.23 389.42,498.73 389.18,497.87 349.46,508.96 305.10,521.13 235.78,540.59" fill="#00289b"/>
<polygon points="236.64,583.67 303.76,557.62 346.55,540.72 410.56,515.92 410.24,515.08 346.07,539.49 302.97,555.57 235.66,581.13" fill="#00289b"/>
<polygon points="236.88,625.15 297.41,586.16 335.94,561.02 357.84,546.78 357.36,546.02 335.23,559.91 296.23,584.31 235.42,622.85" fill="#00289b"/>
<polygon points="237.02,665.85 292.38,619.81 327.57,590.19 356.49,566.05 355.91,565.35 326.73,589.17 290.98,618.12 235.28,663.75" fill="#00289b"/>
<polygon points="237.02,707.85 292.20,661.59 327.27,631.82 381.59,586.35 381.01,585.65 326.43,630.81 290.79,659.90 235.28,705.75" fill="#00289b"/>
<polygon points="1272.33,47.84 1211.32,86.08 1172.49,110.74 1000.46,217.92 1000.94,218.68 1173.18,111.86 1212.48,87.95 1273.77,50.16" fill="#00289b"/>
<polygon points="1272.44,91.28 1208.21,123.81 1167.29,144.84 966.20,246.00 966.60,246.80 1167.88,146.02 1209.19,125.78 1273.66,93.72" fill="#00289b"/>
<polygon points="1272.40,134.21 1209.26,168.81 1169.06,191.16 1151.39,201.00 1151.81,201.80 1169.69,192.32 1210.31,170.75 1273.70,136.59" fill="#00289b"/>
<polygon points="1272.64,177.60 1204.11,199.71 1160.42,214.10 967.26,275.87 967.54,276.73 1160.82,215.36 1204.78,201.81 1273.46,180.20" fill="#00289b"/>
<polygon points="1272.69,221.43 1166.38,252.87 1166.62,253.73 1273.41,223.97" fill="#00289b"/>
<polygon points="1272.93,264.35 1201.23,270.84 1155.44,275.27 849.96,302.05 850.04,302.95 1155.55,276.58 1201.42,273.04 1273.17,267.05" fill="#00289b"/>
<polygon points="1273.01,307.94 1201.05,310.08 1155.07,311.73 848.99,319.95 849.01,320.85 1155.11,313.05 1201.10,312.28 1273.09,310.66" fill="#00289b"/>
<polygon points="1273.09,351.44 1201.10,349.81 1155.11,349.05 907.01,342.75 906.99,343.65 1155.07,350.37 1201.05,352.01 1273.01,354.16" fill="#00289b"/>
<polygon points="1273.12,394.84 1201.19,391.54 1155.23,389.70 827.12,373.65 827.08,374.55 1155.16,391.02 1201.08,393.73 1272.98,397.56" fill="#00289b"/>
<polygon points="1272.69,481.63 1161.28,513.67 1161.52,514.53 1273.41,484.17" fill="#00289b"/>
<polygon points="1272.88,525.09 1163.94,540.15 1164.06,541.05 1273.22,527.71" fill="#00289b"/>
<polygon points="1273.11,568.38 1161.42,564.25 1161.38,565.15 1272.99,571.02" fill="#00289b"/>
<polygon points="1273.21,612.35 1201.70,603.95 1155.99,598.86 1036.95,584.65 1036.85,585.55 1155.83,600.17 1201.44,606.14 1272.89,615.05" fill="#00289b"/>
<polygon points="535.68,56.50 535.78,264.40 537.02,264.40 536.92,56.50" fill="#00289b"/>
<polygon points="257.96,789.13 290.83,725.07 311.58,684.01 339.20,630.21 338.40,629.79 310.41,683.41 288.87,724.05 255.54,787.87" fill="#00289b"/>
<polygon points="385.82,740.40 386.02,667.20 384.78,667.20 384.58,740.40" fill="#00289b"/>
<polygon points="476.46,812.90 476.07,740.90 475.55,694.90 475.25,640.30 474.35,640.30 474.23,694.90 473.87,740.90 473.74,812.90" fill="#00289b"/>
<polygon points="549.72,740.00 549.82,660.40 548.58,660.40 548.48,740.00" fill="#00289b"/>
<polygon points="647.92,740.00 648.12,661.00 646.88,661.00 646.68,740.00" fill="#00289b"/>
<polygon points="689.36,813.30 689.23,741.30 688.87,695.30 688.75,641.20 687.85,641.20 687.55,695.30 687.03,741.30 686.64,813.30" fill="#00289b"/>
<polygon points="804.82,740.00 805.02,646.90 803.78,646.90 803.58,740.00" fill="#00289b"/>
<rect x="221.70" y="74.40" width="28.9" height="28.6" rx="8.5" fill="#00289b"/>
<text x="236.0" y="94.0" font-family="Liberation Sans, sans-serif" font-size="14.4" fill="#fff" stroke="#fff" stroke-width="0.3" text-anchor="middle" textLength="6.6" lengthAdjust="spacingAndGlyphs">1</text>
<rect x="221.70" y="115.70" width="28.9" height="28.6" rx="8.5" fill="#00289b"/>
<text x="236.0" y="135.3" font-family="Liberation Sans, sans-serif" font-size="14.4" fill="#fff" stroke="#fff" stroke-width="0.3" text-anchor="middle" textLength="6.6" lengthAdjust="spacingAndGlyphs">3</text>
<rect x="221.70" y="156.40" width="28.9" height="28.6" rx="8.5" fill="#00289b"/>
<text x="236.0" y="176.0" font-family="Liberation Sans, sans-serif" font-size="14.4" fill="#fff" stroke="#fff" stroke-width="0.3" text-anchor="middle" textLength="6.6" lengthAdjust="spacingAndGlyphs">4</text>
<rect x="221.70" y="197.20" width="28.9" height="28.6" rx="8.5" fill="#00289b"/>
<text x="236.0" y="216.8" font-family="Liberation Sans, sans-serif" font-size="14.4" fill="#fff" stroke="#fff" stroke-width="0.3" text-anchor="middle" textLength="6.6" lengthAdjust="spacingAndGlyphs">5</text>
<rect x="221.70" y="238.30" width="28.9" height="28.6" rx="8.5" fill="#00289b"/>
<text x="236.0" y="257.9" font-family="Liberation Sans, sans-serif" font-size="14.4" fill="#fff" stroke="#fff" stroke-width="0.3" text-anchor="middle" textLength="6.6" lengthAdjust="spacingAndGlyphs">7</text>
<rect x="221.70" y="280.50" width="28.9" height="28.6" rx="8.5" fill="#00289b"/>
<text x="236.0" y="300.1" font-family="Liberation Sans, sans-serif" font-size="14.4" fill="#fff" stroke="#fff" stroke-width="0.3" text-anchor="middle" textLength="6.6" lengthAdjust="spacingAndGlyphs">8</text>
<rect x="221.70" y="321.30" width="28.9" height="28.6" rx="8.5" fill="#00289b"/>
<text x="236.0" y="340.9" font-family="Liberation Sans, sans-serif" font-size="14.4" fill="#fff" stroke="#fff" stroke-width="0.3" text-anchor="middle" textLength="6.6" lengthAdjust="spacingAndGlyphs">9</text>
<rect x="221.70" y="362.70" width="28.9" height="28.6" rx="8.5" fill="#00289b"/>
<text x="236.0" y="382.3" font-family="Liberation Sans, sans-serif" font-size="14.4" fill="#fff" stroke="#fff" stroke-width="0.3" text-anchor="middle" textLength="13.6" lengthAdjust="spacingAndGlyphs">10</text>
<rect x="221.70" y="403.90" width="28.9" height="28.6" rx="8.5" fill="#00289b"/>
<text x="236.0" y="423.5" font-family="Liberation Sans, sans-serif" font-size="14.4" fill="#fff" stroke="#fff" stroke-width="0.3" text-anchor="middle" textLength="13.6" lengthAdjust="spacingAndGlyphs">11</text>
<rect x="221.70" y="444.40" width="28.9" height="28.6" rx="8.5" fill="#00289b"/>
<text x="236.0" y="464.0" font-family="Liberation Sans, sans-serif" font-size="14.4" fill="#fff" stroke="#fff" stroke-width="0.3" text-anchor="middle" textLength="13.6" lengthAdjust="spacingAndGlyphs">12</text>
<rect x="221.70" y="486.40" width="28.9" height="28.6" rx="8.5" fill="#00289b"/>
<text x="236.0" y="506.0" font-family="Liberation Sans, sans-serif" font-size="14.4" fill="#fff" stroke="#fff" stroke-width="0.3" text-anchor="middle" textLength="13.6" lengthAdjust="spacingAndGlyphs">13</text>
<rect x="221.70" y="527.60" width="28.9" height="28.6" rx="8.5" fill="#00289b"/>
<text x="236.0" y="547.2" font-family="Liberation Sans, sans-serif" font-size="14.4" fill="#fff" stroke="#fff" stroke-width="0.3" text-anchor="middle" textLength="13.6" lengthAdjust="spacingAndGlyphs">14</text>
<rect x="221.70" y="568.10" width="28.9" height="28.6" rx="8.5" fill="#00289b"/>
<text x="236.0" y="587.7" font-family="Liberation Sans, sans-serif" font-size="14.4" fill="#fff" stroke="#fff" stroke-width="0.3" text-anchor="middle" textLength="13.6" lengthAdjust="spacingAndGlyphs">15</text>
<rect x="221.70" y="609.70" width="28.9" height="28.6" rx="8.5" fill="#00289b"/>
<text x="236.0" y="629.3" font-family="Liberation Sans, sans-serif" font-size="14.4" fill="#fff" stroke="#fff" stroke-width="0.3" text-anchor="middle" textLength="13.6" lengthAdjust="spacingAndGlyphs">16</text>
<rect x="221.70" y="650.50" width="28.9" height="28.6" rx="8.5" fill="#00289b"/>
<text x="236.0" y="670.1" font-family="Liberation Sans, sans-serif" font-size="14.4" fill="#fff" stroke="#fff" stroke-width="0.3" text-anchor="middle" textLength="13.6" lengthAdjust="spacingAndGlyphs">17</text>
<rect x="221.70" y="692.50" width="28.9" height="28.6" rx="8.5" fill="#00289b"/>
<text x="236.0" y="712.1" font-family="Liberation Sans, sans-serif" font-size="14.4" fill="#fff" stroke="#fff" stroke-width="0.3" text-anchor="middle" textLength="13.6" lengthAdjust="spacingAndGlyphs">18</text>
<rect x="1258.60" y="34.70" width="28.9" height="28.6" rx="8.5" fill="#00289b"/>
<text x="1272.9" y="54.3" font-family="Liberation Sans, sans-serif" font-size="14.4" fill="#fff" stroke="#fff" stroke-width="0.3" text-anchor="middle" textLength="13.6" lengthAdjust="spacingAndGlyphs">19</text>
<rect x="1258.60" y="78.20" width="28.9" height="28.6" rx="8.5" fill="#00289b"/>
<text x="1272.9" y="97.8" font-family="Liberation Sans, sans-serif" font-size="14.4" fill="#fff" stroke="#fff" stroke-width="0.3" text-anchor="middle" textLength="13.6" lengthAdjust="spacingAndGlyphs">20</text>
<rect x="1258.60" y="121.10" width="28.9" height="28.6" rx="8.5" fill="#00289b"/>
<text x="1272.9" y="140.7" font-family="Liberation Sans, sans-serif" font-size="14.4" fill="#fff" stroke="#fff" stroke-width="0.3" text-anchor="middle" textLength="13.6" lengthAdjust="spacingAndGlyphs">21</text>
<rect x="1258.60" y="164.60" width="28.9" height="28.6" rx="8.5" fill="#00289b"/>
<text x="1272.9" y="184.2" font-family="Liberation Sans, sans-serif" font-size="14.4" fill="#fff" stroke="#fff" stroke-width="0.3" text-anchor="middle" textLength="6.6" lengthAdjust="spacingAndGlyphs">2</text>
<rect x="1258.60" y="208.40" width="28.9" height="28.6" rx="8.5" fill="#00289b"/>
<text x="1272.9" y="228.0" font-family="Liberation Sans, sans-serif" font-size="14.4" fill="#fff" stroke="#fff" stroke-width="0.3" text-anchor="middle" textLength="13.6" lengthAdjust="spacingAndGlyphs">22</text>
<rect x="1258.60" y="251.40" width="28.9" height="28.6" rx="8.5" fill="#00289b"/>
<text x="1272.9" y="271.0" font-family="Liberation Sans, sans-serif" font-size="14.4" fill="#fff" stroke="#fff" stroke-width="0.3" text-anchor="middle" textLength="13.6" lengthAdjust="spacingAndGlyphs">23</text>
<rect x="1258.60" y="295.00" width="28.9" height="28.6" rx="8.5" fill="#00289b"/>
<text x="1272.9" y="314.6" font-family="Liberation Sans, sans-serif" font-size="14.4" fill="#fff" stroke="#fff" stroke-width="0.3" text-anchor="middle" textLength="13.6" lengthAdjust="spacingAndGlyphs">24</text>
<rect x="1258.60" y="338.50" width="28.9" height="28.6" rx="8.5" fill="#00289b"/>
<text x="1272.9" y="358.1" font-family="Liberation Sans, sans-serif" font-size="14.4" fill="#fff" stroke="#fff" stroke-width="0.3" text-anchor="middle" textLength="13.6" lengthAdjust="spacingAndGlyphs">25</text>
<rect x="1258.60" y="381.90" width="28.9" height="28.6" rx="8.5" fill="#00289b"/>
<text x="1272.9" y="401.5" font-family="Liberation Sans, sans-serif" font-size="14.4" fill="#fff" stroke="#fff" stroke-width="0.3" text-anchor="middle" textLength="13.6" lengthAdjust="spacingAndGlyphs">26</text>
<rect x="1258.60" y="468.60" width="28.9" height="28.6" rx="8.5" fill="#00289b"/>
<text x="1272.9" y="488.2" font-family="Liberation Sans, sans-serif" font-size="14.4" fill="#fff" stroke="#fff" stroke-width="0.3" text-anchor="middle" textLength="13.6" lengthAdjust="spacingAndGlyphs">27</text>
<rect x="1258.60" y="512.10" width="28.9" height="28.6" rx="8.5" fill="#00289b"/>
<text x="1272.9" y="531.7" font-family="Liberation Sans, sans-serif" font-size="14.4" fill="#fff" stroke="#fff" stroke-width="0.3" text-anchor="middle" textLength="13.6" lengthAdjust="spacingAndGlyphs">28</text>
<rect x="1258.60" y="555.40" width="28.9" height="28.6" rx="8.5" fill="#00289b"/>
<text x="1272.9" y="575.0" font-family="Liberation Sans, sans-serif" font-size="14.4" fill="#fff" stroke="#fff" stroke-width="0.3" text-anchor="middle" textLength="13.6" lengthAdjust="spacingAndGlyphs">29</text>
<rect x="1258.60" y="599.40" width="28.9" height="28.6" rx="8.5" fill="#00289b"/>
<text x="1272.9" y="619.0" font-family="Liberation Sans, sans-serif" font-size="14.4" fill="#fff" stroke="#fff" stroke-width="0.3" text-anchor="middle" textLength="13.6" lengthAdjust="spacingAndGlyphs">30</text>
<rect x="521.85" y="42.20" width="28.9" height="28.6" rx="8.5" fill="#00289b"/>
<text x="536.1" y="61.8" font-family="Liberation Sans, sans-serif" font-size="14.4" fill="#fff" stroke="#fff" stroke-width="0.3" text-anchor="middle" textLength="6.6" lengthAdjust="spacingAndGlyphs">6</text>
<rect x="242.30" y="774.20" width="28.9" height="28.6" rx="8.5" fill="#00289b"/>
<text x="256.6" y="793.8" font-family="Liberation Sans, sans-serif" font-size="14.4" fill="#fff" stroke="#fff" stroke-width="0.3" text-anchor="middle" textLength="13.6" lengthAdjust="spacingAndGlyphs">31</text>
<rect x="370.75" y="726.10" width="28.9" height="28.6" rx="8.5" fill="#00289b"/>
<text x="385.0" y="745.7" font-family="Liberation Sans, sans-serif" font-size="14.4" fill="#fff" stroke="#fff" stroke-width="0.3" text-anchor="middle" textLength="13.6" lengthAdjust="spacingAndGlyphs">32</text>
<rect x="460.65" y="798.60" width="28.9" height="28.6" rx="8.5" fill="#00289b"/>
<text x="474.9" y="818.2" font-family="Liberation Sans, sans-serif" font-size="14.4" fill="#fff" stroke="#fff" stroke-width="0.3" text-anchor="middle" textLength="13.6" lengthAdjust="spacingAndGlyphs">33</text>
<rect x="534.65" y="725.70" width="28.9" height="28.6" rx="8.5" fill="#00289b"/>
<text x="548.9" y="745.3" font-family="Liberation Sans, sans-serif" font-size="14.4" fill="#fff" stroke="#fff" stroke-width="0.3" text-anchor="middle" textLength="13.6" lengthAdjust="spacingAndGlyphs">34</text>
<rect x="632.85" y="725.70" width="28.9" height="28.6" rx="8.5" fill="#00289b"/>
<text x="647.1" y="745.3" font-family="Liberation Sans, sans-serif" font-size="14.4" fill="#fff" stroke="#fff" stroke-width="0.3" text-anchor="middle" textLength="13.6" lengthAdjust="spacingAndGlyphs">35</text>
<rect x="673.55" y="799.00" width="28.9" height="28.6" rx="8.5" fill="#00289b"/>
<text x="687.8" y="818.6" font-family="Liberation Sans, sans-serif" font-size="14.4" fill="#fff" stroke="#fff" stroke-width="0.3" text-anchor="middle" textLength="13.6" lengthAdjust="spacingAndGlyphs">36</text>
<rect x="789.75" y="725.70" width="28.9" height="28.6" rx="8.5" fill="#00289b"/>
<text x="804.0" y="745.3" font-family="Liberation Sans, sans-serif" font-size="14.4" fill="#fff" stroke="#fff" stroke-width="0.3" text-anchor="middle" textLength="13.6" lengthAdjust="spacingAndGlyphs">37</text>
<text x="49.7" y="95.8" font-family="Liberation Sans, sans-serif" font-weight="bold" font-size="16.8" fill="#00249a" fill-opacity="0.9" stroke="#00249a" stroke-width="0.35" stroke-opacity="0.9" textLength="167.1" lengthAdjust="spacing">Espécie documento</text>
<text x="48.7" y="94.8" font-family="Liberation Sans, sans-serif" font-weight="bold" font-size="16.8" fill="#00249a" fill-opacity="1" stroke="#00249a" stroke-width="0.35" stroke-opacity="1" textLength="167.1" lengthAdjust="spacing">Espécie documento</text>
<text x="49.0" y="137.1" font-family="Liberation Sans, sans-serif" font-weight="bold" font-size="16.8" fill="#00249a" fill-opacity="0.9" stroke="#00249a" stroke-width="0.35" stroke-opacity="0.9" textLength="167.8" lengthAdjust="spacing">Cliente/Fornecedor</text>
<text x="48.0" y="136.1" font-family="Liberation Sans, sans-serif" font-weight="bold" font-size="16.8" fill="#00249a" fill-opacity="1" stroke="#00249a" stroke-width="0.35" stroke-opacity="1" textLength="167.8" lengthAdjust="spacing">Cliente/Fornecedor</text>
<text x="91.9" y="177.8" font-family="Liberation Sans, sans-serif" font-weight="bold" font-size="16.8" fill="#00249a" fill-opacity="0.9" stroke="#00249a" stroke-width="0.35" stroke-opacity="0.9" textLength="124.9" lengthAdjust="spacing">Nº documento</text>
<text x="90.9" y="176.8" font-family="Liberation Sans, sans-serif" font-weight="bold" font-size="16.8" fill="#00249a" fill-opacity="1" stroke="#00249a" stroke-width="0.35" stroke-opacity="1" textLength="124.9" lengthAdjust="spacing">Nº documento</text>
<text x="79.9" y="218.6" font-family="Liberation Sans, sans-serif" font-weight="bold" font-size="16.8" fill="#00249a" fill-opacity="0.9" stroke="#00249a" stroke-width="0.35" stroke-opacity="0.9" textLength="136.9" lengthAdjust="spacing">Desdobramento</text>
<text x="78.9" y="217.6" font-family="Liberation Sans, sans-serif" font-weight="bold" font-size="16.8" fill="#00249a" fill-opacity="1" stroke="#00249a" stroke-width="0.35" stroke-opacity="1" textLength="136.9" lengthAdjust="spacing">Desdobramento</text>
<text x="43.9" y="259.7" font-family="Liberation Sans, sans-serif" font-weight="bold" font-size="16.8" fill="#00249a" fill-opacity="0.9" stroke="#00249a" stroke-width="0.35" stroke-opacity="0.9" textLength="172.9" lengthAdjust="spacing">Data de vencimento</text>
<text x="42.9" y="258.7" font-family="Liberation Sans, sans-serif" font-weight="bold" font-size="16.8" fill="#00249a" fill-opacity="1" stroke="#00249a" stroke-width="0.35" stroke-opacity="1" textLength="172.9" lengthAdjust="spacing">Data de vencimento</text>
<text x="53.5" y="301.9" font-family="Liberation Sans, sans-serif" font-weight="bold" font-size="16.8" fill="#00249a" fill-opacity="0.9" stroke="#00249a" stroke-width="0.35" stroke-opacity="0.9" textLength="163.3" lengthAdjust="spacing">Data de fluxo caixa</text>
<text x="52.5" y="300.9" font-family="Liberation Sans, sans-serif" font-weight="bold" font-size="16.8" fill="#00249a" fill-opacity="1" stroke="#00249a" stroke-width="0.35" stroke-opacity="1" textLength="163.3" lengthAdjust="spacing">Data de fluxo caixa</text>
<text x="43.6" y="342.7" font-family="Liberation Sans, sans-serif" font-weight="bold" font-size="16.8" fill="#00249a" fill-opacity="0.9" stroke="#00249a" stroke-width="0.35" stroke-opacity="0.9" textLength="173.2" lengthAdjust="spacing">Valor do documento</text>
<text x="42.6" y="341.7" font-family="Liberation Sans, sans-serif" font-weight="bold" font-size="16.8" fill="#00249a" fill-opacity="1" stroke="#00249a" stroke-width="0.35" stroke-opacity="1" textLength="173.2" lengthAdjust="spacing">Valor do documento</text>
<text x="64.7" y="384.1" font-family="Liberation Sans, sans-serif" font-weight="bold" font-size="16.8" fill="#00249a" fill-opacity="0.9" stroke="#00249a" stroke-width="0.35" stroke-opacity="0.9" textLength="152.1" lengthAdjust="spacing">Local de cobrança</text>
<text x="63.7" y="383.1" font-family="Liberation Sans, sans-serif" font-weight="bold" font-size="16.8" fill="#00249a" fill-opacity="1" stroke="#00249a" stroke-width="0.35" stroke-opacity="1" textLength="152.1" lengthAdjust="spacing">Local de cobrança</text>
<text x="141.0" y="425.3" font-family="Liberation Sans, sans-serif" font-weight="bold" font-size="16.8" fill="#00249a" fill-opacity="0.9" stroke="#00249a" stroke-width="0.35" stroke-opacity="0.9" textLength="75.8" lengthAdjust="spacing">Natureza</text>
<text x="140.0" y="424.3" font-family="Liberation Sans, sans-serif" font-weight="bold" font-size="16.8" fill="#00249a" fill-opacity="1" stroke="#00249a" stroke-width="0.35" stroke-opacity="1" textLength="75.8" lengthAdjust="spacing">Natureza</text>
<text x="64.7" y="465.8" font-family="Liberation Sans, sans-serif" font-weight="bold" font-size="16.8" fill="#00249a" fill-opacity="0.9" stroke="#00249a" stroke-width="0.35" stroke-opacity="0.9" textLength="152.1" lengthAdjust="spacing">Nº reg.orgão cobr</text>
<text x="63.7" y="464.8" font-family="Liberation Sans, sans-serif" font-weight="bold" font-size="16.8" fill="#00249a" fill-opacity="1" stroke="#00249a" stroke-width="0.35" stroke-opacity="1" textLength="152.1" lengthAdjust="spacing">Nº reg.orgão cobr</text>
<text x="90.9" y="507.8" font-family="Liberation Sans, sans-serif" font-weight="bold" font-size="16.8" fill="#00249a" fill-opacity="0.9" stroke="#00249a" stroke-width="0.35" stroke-opacity="0.9" textLength="125.9" lengthAdjust="spacing">Representante</text>
<text x="89.9" y="506.8" font-family="Liberation Sans, sans-serif" font-weight="bold" font-size="16.8" fill="#00249a" fill-opacity="1" stroke="#00249a" stroke-width="0.35" stroke-opacity="1" textLength="125.9" lengthAdjust="spacing">Representante</text>
<text x="48.6" y="549.0" font-family="Liberation Sans, sans-serif" font-weight="bold" font-size="16.8" fill="#00249a" fill-opacity="0.9" stroke="#00249a" stroke-width="0.35" stroke-opacity="0.9" textLength="168.2" lengthAdjust="spacing">Data de Pagamento</text>
<text x="47.6" y="548.0" font-family="Liberation Sans, sans-serif" font-weight="bold" font-size="16.8" fill="#00249a" fill-opacity="1" stroke="#00249a" stroke-width="0.35" stroke-opacity="1" textLength="168.2" lengthAdjust="spacing">Data de Pagamento</text>
<text x="83.7" y="589.5" font-family="Liberation Sans, sans-serif" font-weight="bold" font-size="16.8" fill="#00249a" fill-opacity="0.9" stroke="#00249a" stroke-width="0.35" stroke-opacity="0.9" textLength="133.1" lengthAdjust="spacing">Data de Crédito</text>
<text x="82.7" y="588.5" font-family="Liberation Sans, sans-serif" font-weight="bold" font-size="16.8" fill="#00249a" fill-opacity="1" stroke="#00249a" stroke-width="0.35" stroke-opacity="1" textLength="133.1" lengthAdjust="spacing">Data de Crédito</text>
<text x="71.5" y="631.1" font-family="Liberation Sans, sans-serif" font-weight="bold" font-size="16.8" fill="#00249a" fill-opacity="0.9" stroke="#00249a" stroke-width="0.35" stroke-opacity="0.9" textLength="145.3" lengthAdjust="spacing">Juros/acréscimos</text>
<text x="70.5" y="630.1" font-family="Liberation Sans, sans-serif" font-weight="bold" font-size="16.8" fill="#00249a" fill-opacity="1" stroke="#00249a" stroke-width="0.35" stroke-opacity="1" textLength="145.3" lengthAdjust="spacing">Juros/acréscimos</text>
<text x="13.8" y="671.9" font-family="Liberation Sans, sans-serif" font-weight="bold" font-size="16.8" fill="#00249a" fill-opacity="0.9" stroke="#00249a" stroke-width="0.35" stroke-opacity="0.9" textLength="203.0" lengthAdjust="spacing">Descontos/abatimentos</text>
<text x="12.8" y="670.9" font-family="Liberation Sans, sans-serif" font-weight="bold" font-size="16.8" fill="#00249a" fill-opacity="1" stroke="#00249a" stroke-width="0.35" stroke-opacity="1" textLength="203.0" lengthAdjust="spacing">Descontos/abatimentos</text>
<text x="111.0" y="713.9" font-family="Liberation Sans, sans-serif" font-weight="bold" font-size="16.8" fill="#00249a" fill-opacity="0.9" stroke="#00249a" stroke-width="0.35" stroke-opacity="0.9" textLength="105.8" lengthAdjust="spacing">Valor líquido</text>
<text x="110.0" y="712.9" font-family="Liberation Sans, sans-serif" font-weight="bold" font-size="16.8" fill="#00249a" fill-opacity="1" stroke="#00249a" stroke-width="0.35" stroke-opacity="1" textLength="105.8" lengthAdjust="spacing">Valor líquido</text>
<text x="1294.0" y="56.1" font-family="Liberation Sans, sans-serif" font-weight="bold" font-size="16.8" fill="#00249a" fill-opacity="0.9" stroke="#00249a" stroke-width="0.35" stroke-opacity="0.9" textLength="62.1" lengthAdjust="spacing">Origem</text>
<text x="1293.0" y="55.1" font-family="Liberation Sans, sans-serif" font-weight="bold" font-size="16.8" fill="#00249a" fill-opacity="1" stroke="#00249a" stroke-width="0.35" stroke-opacity="1" textLength="62.1" lengthAdjust="spacing">Origem</text>
<text x="1294.0" y="99.6" font-family="Liberation Sans, sans-serif" font-weight="bold" font-size="16.8" fill="#00249a" fill-opacity="0.9" stroke="#00249a" stroke-width="0.35" stroke-opacity="0.9" textLength="169.9" lengthAdjust="spacing">Data de movimento</text>
<text x="1293.0" y="98.6" font-family="Liberation Sans, sans-serif" font-weight="bold" font-size="16.8" fill="#00249a" fill-opacity="1" stroke="#00249a" stroke-width="0.35" stroke-opacity="1" textLength="169.9" lengthAdjust="spacing">Data de movimento</text>
<text x="1294.0" y="142.5" font-family="Liberation Sans, sans-serif" font-weight="bold" font-size="16.8" fill="#00249a" fill-opacity="0.9" stroke="#00249a" stroke-width="0.35" stroke-opacity="0.9" textLength="38.2" lengthAdjust="spacing">Sigla</text>
<text x="1293.0" y="141.5" font-family="Liberation Sans, sans-serif" font-weight="bold" font-size="16.8" fill="#00249a" fill-opacity="1" stroke="#00249a" stroke-width="0.35" stroke-opacity="1" textLength="38.2" lengthAdjust="spacing">Sigla</text>
<text x="1294.0" y="186.0" font-family="Liberation Sans, sans-serif" font-weight="bold" font-size="16.8" fill="#00249a" fill-opacity="0.9" stroke="#00249a" stroke-width="0.35" stroke-opacity="0.9" textLength="166.1" lengthAdjust="spacing">Tipo de documento</text>
<text x="1293.0" y="185.0" font-family="Liberation Sans, sans-serif" font-weight="bold" font-size="16.8" fill="#00249a" fill-opacity="1" stroke="#00249a" stroke-width="0.35" stroke-opacity="1" textLength="166.1" lengthAdjust="spacing">Tipo de documento</text>
<text x="1294.0" y="229.8" font-family="Liberation Sans, sans-serif" font-weight="bold" font-size="16.8" fill="#00249a" fill-opacity="0.9" stroke="#00249a" stroke-width="0.35" stroke-opacity="0.9" textLength="29.4" lengthAdjust="spacing">Seq</text>
<text x="1293.0" y="228.8" font-family="Liberation Sans, sans-serif" font-weight="bold" font-size="16.8" fill="#00249a" fill-opacity="1" stroke="#00249a" stroke-width="0.35" stroke-opacity="1" textLength="29.4" lengthAdjust="spacing">Seq</text>
<text x="1294.0" y="272.8" font-family="Liberation Sans, sans-serif" font-weight="bold" font-size="16.8" fill="#00249a" fill-opacity="0.9" stroke="#00249a" stroke-width="0.35" stroke-opacity="0.9" textLength="120.8" lengthAdjust="spacing">Fluxo de caixa</text>
<text x="1293.0" y="271.8" font-family="Liberation Sans, sans-serif" font-weight="bold" font-size="16.8" fill="#00249a" fill-opacity="1" stroke="#00249a" stroke-width="0.35" stroke-opacity="1" textLength="120.8" lengthAdjust="spacing">Fluxo de caixa</text>
<text x="1294.0" y="316.4" font-family="Liberation Sans, sans-serif" font-weight="bold" font-size="16.8" fill="#00249a" fill-opacity="0.9" stroke="#00249a" stroke-width="0.35" stroke-opacity="0.9" textLength="53.8" lengthAdjust="spacing">Aceite</text>
<text x="1293.0" y="315.4" font-family="Liberation Sans, sans-serif" font-weight="bold" font-size="16.8" fill="#00249a" fill-opacity="1" stroke="#00249a" stroke-width="0.35" stroke-opacity="1" textLength="53.8" lengthAdjust="spacing">Aceite</text>
<text x="1294.0" y="359.9" font-family="Liberation Sans, sans-serif" font-weight="bold" font-size="16.8" fill="#00249a" fill-opacity="0.9" stroke="#00249a" stroke-width="0.35" stroke-opacity="0.9" textLength="149.0" lengthAdjust="spacing">Código do pedido</text>
<text x="1293.0" y="358.9" font-family="Liberation Sans, sans-serif" font-weight="bold" font-size="16.8" fill="#00249a" fill-opacity="1" stroke="#00249a" stroke-width="0.35" stroke-opacity="1" textLength="149.0" lengthAdjust="spacing">Código do pedido</text>
<text x="1294.0" y="403.3" font-family="Liberation Sans, sans-serif" font-weight="bold" font-size="16.8" fill="#00249a" fill-opacity="0.9" stroke="#00249a" stroke-width="0.35" stroke-opacity="0.9" textLength="108.0" lengthAdjust="spacing">Observações</text>
<text x="1293.0" y="402.3" font-family="Liberation Sans, sans-serif" font-weight="bold" font-size="16.8" fill="#00249a" fill-opacity="1" stroke="#00249a" stroke-width="0.35" stroke-opacity="1" textLength="108.0" lengthAdjust="spacing">Observações</text>
<text x="1294.0" y="490.0" font-family="Liberation Sans, sans-serif" font-weight="bold" font-size="16.8" fill="#00249a" fill-opacity="0.9" stroke="#00249a" stroke-width="0.35" stroke-opacity="0.9" textLength="203.9" lengthAdjust="spacing">Histórico de pagamento</text>
<text x="1293.0" y="489.0" font-family="Liberation Sans, sans-serif" font-weight="bold" font-size="16.8" fill="#00249a" fill-opacity="1" stroke="#00249a" stroke-width="0.35" stroke-opacity="1" textLength="203.9" lengthAdjust="spacing">Histórico de pagamento</text>
<text x="1294.0" y="533.5" font-family="Liberation Sans, sans-serif" font-weight="bold" font-size="16.8" fill="#00249a" fill-opacity="0.9" stroke="#00249a" stroke-width="0.35" stroke-opacity="0.9" textLength="147.8" lengthAdjust="spacing">Histórico de juros</text>
<text x="1293.0" y="532.5" font-family="Liberation Sans, sans-serif" font-weight="bold" font-size="16.8" fill="#00249a" fill-opacity="1" stroke="#00249a" stroke-width="0.35" stroke-opacity="1" textLength="147.8" lengthAdjust="spacing">Histórico de juros</text>
<text x="1294.0" y="576.8" font-family="Liberation Sans, sans-serif" font-weight="bold" font-size="16.8" fill="#00249a" fill-opacity="0.9" stroke="#00249a" stroke-width="0.35" stroke-opacity="0.9" textLength="193.0" lengthAdjust="spacing">Histórico de descontos</text>
<text x="1293.0" y="575.8" font-family="Liberation Sans, sans-serif" font-weight="bold" font-size="16.8" fill="#00249a" fill-opacity="1" stroke="#00249a" stroke-width="0.35" stroke-opacity="1" textLength="193.0" lengthAdjust="spacing">Histórico de descontos</text>
<text x="1294.0" y="620.8" font-family="Liberation Sans, sans-serif" font-weight="bold" font-size="16.8" fill="#00249a" fill-opacity="0.9" stroke="#00249a" stroke-width="0.35" stroke-opacity="0.9" textLength="71.0" lengthAdjust="spacing">Situação</text>
<text x="1293.0" y="619.8" font-family="Liberation Sans, sans-serif" font-weight="bold" font-size="16.8" fill="#00249a" fill-opacity="1" stroke="#00249a" stroke-width="0.35" stroke-opacity="1" textLength="71.0" lengthAdjust="spacing">Situação</text>
<text x="506.8" y="31.8" font-family="Liberation Sans, sans-serif" font-weight="bold" font-size="16.8" fill="#00249a" fill-opacity="0.9" stroke="#00249a" stroke-width="0.35" stroke-opacity="0.9" textLength="61.4" lengthAdjust="spacing">Parcela</text>
<text x="505.8" y="30.8" font-family="Liberation Sans, sans-serif" font-weight="bold" font-size="16.8" fill="#00249a" fill-opacity="1" stroke="#00249a" stroke-width="0.35" stroke-opacity="1" textLength="61.4" lengthAdjust="spacing">Parcela</text>
<text x="185.6" y="827.6" font-family="Liberation Sans, sans-serif" font-weight="bold" font-size="16.8" fill="#00249a" fill-opacity="0.9" stroke="#00249a" stroke-width="0.35" stroke-opacity="0.9" textLength="144.8" lengthAdjust="spacing">Dados Adicionais</text>
<text x="184.6" y="826.6" font-family="Liberation Sans, sans-serif" font-weight="bold" font-size="16.8" fill="#00249a" fill-opacity="1" stroke="#00249a" stroke-width="0.35" stroke-opacity="1" textLength="144.8" lengthAdjust="spacing">Dados Adicionais</text>
<text x="311.6" y="778.6" font-family="Liberation Sans, sans-serif" font-weight="bold" font-size="16.8" fill="#00249a" fill-opacity="0.9" stroke="#00249a" stroke-width="0.35" stroke-opacity="0.9" textLength="148.3" lengthAdjust="spacing">Hist.lib.bloqueios</text>
<text x="310.6" y="777.6" font-family="Liberation Sans, sans-serif" font-weight="bold" font-size="16.8" fill="#00249a" fill-opacity="1" stroke="#00249a" stroke-width="0.35" stroke-opacity="1" textLength="148.3" lengthAdjust="spacing">Hist.lib.bloqueios</text>
<text x="383.7" y="851.4" font-family="Liberation Sans, sans-serif" font-weight="bold" font-size="16.8" fill="#00249a" fill-opacity="0.9" stroke="#00249a" stroke-width="0.35" stroke-opacity="0.9" textLength="185.3" lengthAdjust="spacing">Cobrança/Pagamento</text>
<text x="382.7" y="850.4" font-family="Liberation Sans, sans-serif" font-weight="bold" font-size="16.8" fill="#00249a" fill-opacity="1" stroke="#00249a" stroke-width="0.35" stroke-opacity="1" textLength="185.3" lengthAdjust="spacing">Cobrança/Pagamento</text>
<text x="494.1" y="778.6" font-family="Liberation Sans, sans-serif" font-weight="bold" font-size="16.8" fill="#00249a" fill-opacity="0.9" stroke="#00249a" stroke-width="0.35" stroke-opacity="0.9" textLength="110.9" lengthAdjust="spacing">Rastrear doc.</text>
<text x="493.1" y="777.6" font-family="Liberation Sans, sans-serif" font-weight="bold" font-size="16.8" fill="#00249a" fill-opacity="1" stroke="#00249a" stroke-width="0.35" stroke-opacity="1" textLength="110.9" lengthAdjust="spacing">Rastrear doc.</text>
<text x="611.2" y="778.6" font-family="Liberation Sans, sans-serif" font-weight="bold" font-size="16.8" fill="#00249a" fill-opacity="0.9" stroke="#00249a" stroke-width="0.35" stroke-opacity="0.9" textLength="73.7" lengthAdjust="spacing">Histórico</text>
<text x="610.2" y="777.6" font-family="Liberation Sans, sans-serif" font-weight="bold" font-size="16.8" fill="#00249a" fill-opacity="1" stroke="#00249a" stroke-width="0.35" stroke-opacity="1" textLength="73.7" lengthAdjust="spacing">Histórico</text>
<text x="598.1" y="851.6" font-family="Liberation Sans, sans-serif" font-weight="bold" font-size="16.8" fill="#00249a" fill-opacity="0.9" stroke="#00249a" stroke-width="0.35" stroke-opacity="0.9" textLength="181.8" lengthAdjust="spacing">Movtos/Observações</text>
<text x="597.1" y="850.6" font-family="Liberation Sans, sans-serif" font-weight="bold" font-size="16.8" fill="#00249a" fill-opacity="1" stroke="#00249a" stroke-width="0.35" stroke-opacity="1" textLength="181.8" lengthAdjust="spacing">Movtos/Observações</text>
<text x="713.5" y="778.6" font-family="Liberation Sans, sans-serif" font-weight="bold" font-size="16.8" fill="#00249a" fill-opacity="0.9" stroke="#00249a" stroke-width="0.35" stroke-opacity="0.9" textLength="183.5" lengthAdjust="spacing">Variações Monetárias</text>
<text x="712.5" y="777.6" font-family="Liberation Sans, sans-serif" font-weight="bold" font-size="16.8" fill="#00249a" fill-opacity="1" stroke="#00249a" stroke-width="0.35" stroke-opacity="1" textLength="183.5" lengthAdjust="spacing">Variações Monetárias</text>
</svg>
</body></html>
